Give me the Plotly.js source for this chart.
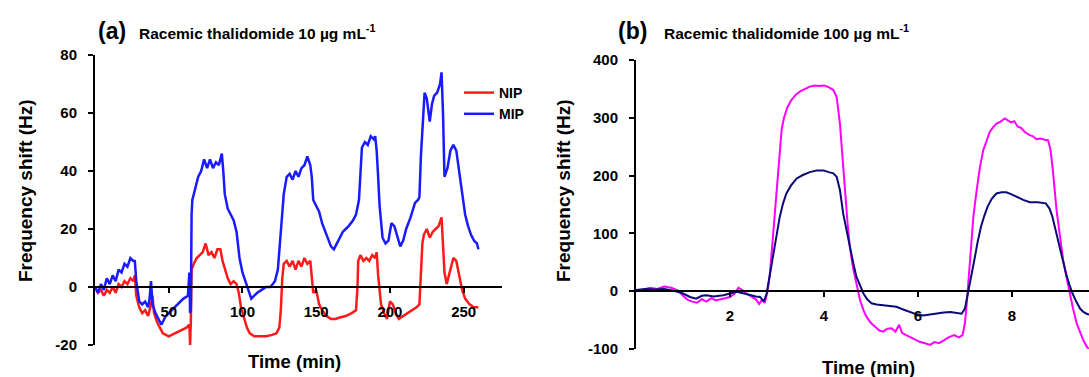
<!DOCTYPE html>
<html>
<head>
<meta charset="utf-8">
<script src="https://cdn.plot.ly/plotly-3.0.1.min.js"></script>
<style>html,body{margin:0;padding:0;background:#fff}#chart{width:1089px;height:377px}</style>
</head>
<body>
<div id="chart"></div>
<script>
// ---------- Panel (a): Racemic thalidomide 10 µg/mL ----------
const aMipTime = [0,2,4,6,8,10,12,14,16,18,20,22,24,26,27,28,30,32,34,36,37,38,39,41,43,45,48,52,56,60,63,64,64.5,65,65.5,66,68,70,72,74,76,78,80,82,84,86,87,88,90,92,94,96,98,100,102,104,106,108,110,113,116,119,122,124,126,128,130,132,134,136,138,140,142,144,146,147,148,150,152,154,157,160,162,165,168,170,172,175,177,179,180,181,183,185,187,189,190,191,192,193,195,197,199,201,203,205,207,209,211,214,217,219,220,221,222,223.5,225,227,228.5,230,232,234,235,236,237,239,241,243,245,247,249,251,253,255,257,259,260];
const aMipShift = [0,-2,1,-1,3,1,4,2,6,5,8,7,10,9,9,2,-5,-6,-5,-7,-4,2,-6,-9,-11,-13,-10,-8,-6,-4,-3,5,-9,-8,25,30,34,38,40,44,41,44,41,43,42,46,40,32,27,25,23,19,10,5,2,-1,-4,-3,-2,-1,0,0,2,6,18,32,38,39,37,40,38,41,42,45,42,38,30,28,26,22,18,14,13,16,19,20,21,23,25,30,40,48,50,49,52,51,52,47,38,28,17,15,16,22,21,17,14,16,20,24,29,30,31,45,55,67,65,57,63,66,67,70,74,60,38,41,47,49,47,40,32,25,21,18,16,15,13];

const aNipTime = [0,2,4,6,8,10,12,14,16,18,20,22,24,26,27,28,30,32,34,36,38,39,40,42,44,46,50,54,58,62,64,64.5,65,65.5,67,69,71,73,75,77,79,81,83,85,86.5,88,90,92,94,96,97.5,99,101,103,105,108,112,116,120,123,125,126,127,128,130,132,134,136,138,140,142,144,146,147,148,150,152,154,157,160,163,166,170,174,177,178,178.5,180,182,184,186,188,190,191,192,194,196,198,200,202,204,206,209,212,215,218,220,221,222,223,225,227,229,231,233,235,236,237,238.5,240,241,243,245,247,249,251,254,257,260];
const aNipShift = [0,-2,-1,-3,-1,-2,0,-2,1,0,2,1,3,2,4,-3,-7,-9,-8,-10,-6,-3,-9,-12,-14,-16,-17,-16,-15,-14,-13,-20,-12,6,8,10,11,12,15,11,12,10,13,13,9,6,3,1,2,1,-2,-7,-11,-14,-16,-17,-17,-17,-16.5,-16,-14,-8,3,8,9,7,9,6,9,7,10,8,9,4,-2,-1,-6,-8,-10,-11,-11,-10.5,-10,-9,-8,0,9,11,9,10,9,11,10,12,4,-6,-9,-11,-5,-6,-9,-11,-10,-9,-8,-7,-6,5,15,18,20,17,19,20,21,24,15,5,1,4,6,10,9,4,-1,-4,-6,-7,-7];

const aTicksX = [50,100,150,200,250];
const aTicksY = [-20,0,20,40,60,80];

// ---------- Panel (b): Racemic thalidomide 100 µg/mL ----------
const bPinkTime = [0,0.15,0.3,0.45,0.6,0.75,0.9,1.0,1.1,1.2,1.3,1.4,1.5,1.6,1.7,1.8,1.9,2.0,2.1,2.18,2.25,2.35,2.45,2.55,2.62,2.68,2.74,2.8,2.85,2.92,2.98,3.04,3.1,3.15,3.22,3.3,3.4,3.5,3.6,3.7,3.8,3.9,4.0,4.1,4.2,4.27,4.34,4.4,4.45,4.5,4.55,4.62,4.7,4.77,4.85,4.91,5.0,5.09,5.18,5.26,5.35,5.44,5.52,5.6,5.66,5.75,5.85,5.95,6.05,6.15,6.26,6.35,6.45,6.55,6.65,6.77,6.87,6.95,7.0,7.04,7.08,7.12,7.18,7.25,7.32,7.39,7.46,7.53,7.6,7.67,7.75,7.85,7.92,7.98,8.05,8.12,8.2,8.28,8.38,8.45,8.52,8.6,8.7,8.77,8.82,8.87,8.95,9.02,9.09,9.16,9.23,9.3,9.38,9.45,9.52,9.6,9.7,9.8];
const bPinkShift = [0,3,6,4,8,6,1,-8,-15,-18,-20,-14,-18,-12,-16,-14,-12,-10,-4,6,3,-4,-9,-14,-22,-15,-20,0,30,100,160,220,280,300,318,330,340,346,350,354,356,355,356,353,348,336,290,220,170,120,77,40,10,-16,-35,-45,-55,-62,-68,-70,-65,-64,-70,-58,-72,-76,-80,-84,-88,-90,-93,-88,-90,-85,-80,-76,-80,-76,-55,-20,20,70,130,175,215,244,262,276,284,290,293,299,295,292,294,285,282,275,270,268,263,264,262,261,245,210,140,95,54,25,-4,-30,-56,-72,-85,-97,-105,-110];

const bNavyTime = [0,0.2,0.4,0.6,0.8,1.0,1.15,1.28,1.4,1.5,1.65,1.86,2.0,2.14,2.3,2.43,2.55,2.64,2.72,2.78,2.85,2.92,2.96,3.02,3.06,3.13,3.2,3.3,3.42,3.55,3.7,3.85,3.99,4.1,4.2,4.27,4.34,4.41,4.48,4.55,4.62,4.69,4.77,4.84,4.92,5.01,5.12,5.26,5.4,5.54,5.7,5.83,5.97,6.11,6.25,6.4,6.55,6.69,6.82,6.93,7.0,7.05,7.09,7.15,7.2,7.27,7.34,7.41,7.48,7.57,7.67,7.78,7.88,7.98,8.1,8.24,8.38,8.55,8.72,8.8,8.86,8.93,9.0,9.08,9.15,9.22,9.29,9.37,9.45,9.52,9.59,9.7];
const bNavyShift = [2,4,3,4,1,-4,-10,-13,-8,-7,-9,-7,-4,-1,-4,-7,-9,-10,-18,-4,30,60,77,110,129,152,169,183,195,201,206,209,209,206,204,198,175,134,105,77,50,25,8,-4,-14,-21,-23,-24,-25,-27,-32,-36,-40,-42,-40,-39,-37,-36,-38,-39,-30,-10,7,30,54,85,111,130,146,160,169,171,171,168,163,158,154,154,152,143,129,105,83,55,31,12,-4,-18,-30,-36,-39,-42];

const bTicksX = [2,4,6,8];
const bTicksY = [-100,0,100,200,300,400];

// ---------- layout helpers (pixel -> paper fraction) ----------
const W = 1089, H = 377;
const PX = p => p / W;
const PY = p => 1 - p / H;
const FONT = 'Liberation Sans, Arial, sans-serif';
const tickFont = {family: FONT, size: 15, color: '#000', weight: 'bold'};

const axisCommon = {
  showline: true, linecolor: '#000', linewidth: 2,
  ticks: 'outside', ticklen: 5, tickwidth: 2, tickcolor: '#000',
  showgrid: false, zeroline: false, tickfont: tickFont, fixedrange: true
};

const traces = [
  {x: aNipTime, y: aNipShift, name: 'NIP', mode: 'lines', line: {color: '#ff1a1a', width: 2.5}, xaxis: 'x', yaxis: 'y'},
  {x: aMipTime, y: aMipShift, name: 'MIP', mode: 'lines', line: {color: '#1a1aff', width: 2.5}, xaxis: 'x', yaxis: 'y'},
  {x: bPinkTime, y: bPinkShift, name: 'MIP 100', mode: 'lines', line: {color: '#ff00ff', width: 2}, xaxis: 'x2', yaxis: 'y2', showlegend: false},
  {x: bNavyTime, y: bNavyShift, name: 'NIP 100', mode: 'lines', line: {color: '#0a0a78', width: 2}, xaxis: 'x2', yaxis: 'y2', showlegend: false}
];

const ann = (text, px, py, size, opts) => Object.assign({
  text: text, xref: 'paper', yref: 'paper', x: PX(px), y: PY(py),
  showarrow: false, xanchor: 'left', yanchor: 'middle',
  font: {family: FONT, size: size, color: '#000', weight: 'bold'}
}, opts || {});

const layout = {
  width: W, height: H,
  margin: {l: 0, r: 0, t: 0, b: 0},
  paper_bgcolor: '#fff', plot_bgcolor: 'rgba(0,0,0,0)',
  showlegend: true,
  legend: {x: PX(459), y: PY(77), xanchor: 'left', yanchor: 'top',
           font: {family: FONT, size: 14, color: '#000', weight: 'bold'},
           bgcolor: 'rgba(0,0,0,0)', tracegroupgap: 0},
  xaxis: Object.assign({}, axisCommon, {
    domain: [PX(95), PX(502)], range: [0, 276], anchor: 'free', position: PY(287),
    tickvals: aTicksX, ticktext: aTicksX.map(String), ticklabelstandoff: 6
  }),
  yaxis: Object.assign({}, axisCommon, {
    domain: [PY(345), PY(55)], range: [-20, 80], anchor: 'x',
    tickvals: aTicksY, ticktext: aTicksY.map(String), ticklabelstandoff: 8
  }),
  xaxis2: Object.assign({}, axisCommon, {
    domain: [PX(636), 1], range: [0, 9.64], anchor: 'free', position: PY(291),
    tickvals: bTicksX, ticktext: bTicksX.map(String), ticklabelstandoff: 6
  }),
  yaxis2: Object.assign({}, axisCommon, {
    domain: [PY(349), PY(60)], range: [-100, 400], anchor: 'x2',
    tickvals: bTicksY, ticktext: bTicksY.map(String), ticklabelstandoff: 8
  }),
  annotations: [
    ann('(a)', 96, 31, 23),
    ann('Racemic thalidomide 10 µg mL<sup>-1</sup>', 137, 32, 15.5),
    ann('(b)', 616, 31, 23),
    ann('Racemic thalidomide 100 µg mL<sup>-1</sup>', 662, 32, 15.5),
    ann('Frequency shift (Hz)', 26, 191, 19, {xanchor: 'center', textangle: -90}),
    ann('Frequency shift (Hz)', 564, 191, 19, {xanchor: 'center', textangle: -90}),
    ann('Time (min)', 294, 361, 18.5, {xanchor: 'center'}),
    ann('Time (min)', 868, 367, 18.5, {xanchor: 'center'})
  ]
};

Plotly.newPlot('chart', traces, layout, {staticPlot: true, displayModeBar: false});
</script>
</body>
</html>
